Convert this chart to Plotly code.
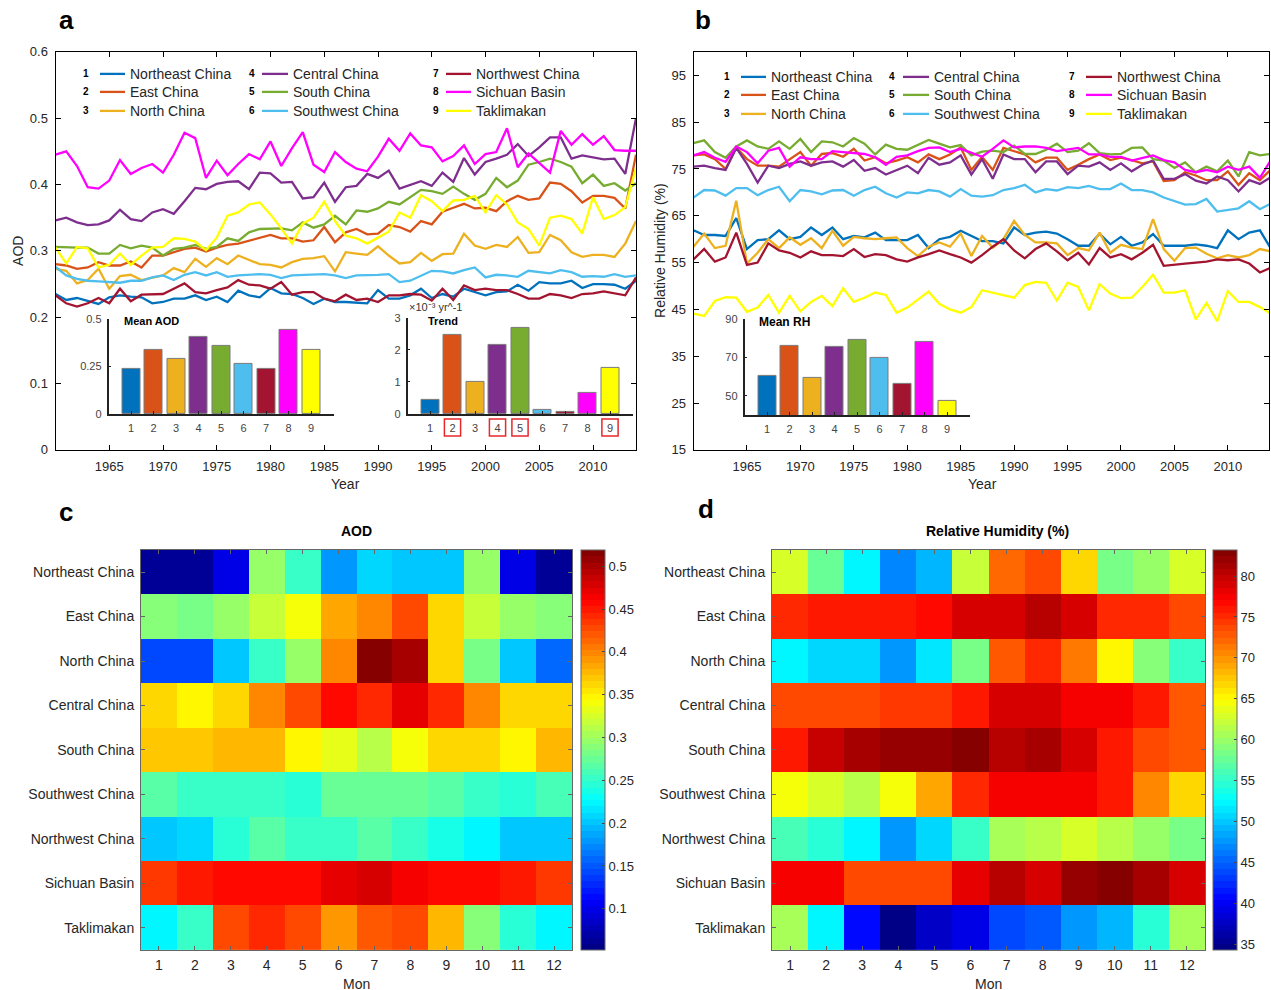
import plotly.graph_objects as go

W, HF = 1271, 1000   # figure size; page rows are mapped so the captured 990-px picture lines up

years = list(range(1960, 2015))
regions = ["Northeast China", "East China", "North China", "Central China", "South China",
           "Southwest China", "Northwest China", "Sichuan Basin", "Taklimakan"]
colors = ["#0072BD", "#D95319", "#EDB120", "#7E2F8E", "#77AC30",
          "#4DBEEE", "#A2142F", "#FF00FF", "#FFFF00"]

# ---------------- AOD annual series (1960-2014) ----------------
aod_northeast = [0.235, 0.226, 0.229, 0.225, 0.22, 0.23, 0.233, 0.231, 0.23, 0.221, 0.223, 0.228, 0.228, 0.233,
                 0.226, 0.231, 0.223, 0.24, 0.233, 0.23, 0.244, 0.236, 0.235, 0.229, 0.22, 0.228, 0.223, 0.223,
                 0.222, 0.221, 0.241, 0.228, 0.228, 0.233, 0.243, 0.229, 0.235, 0.231, 0.243, 0.238, 0.233, 0.238,
                 0.239, 0.249, 0.24, 0.253, 0.251, 0.251, 0.255, 0.244, 0.25, 0.25, 0.249, 0.243, 0.255]
aod_east = [0.28, 0.278, 0.273, 0.275, 0.283, 0.278, 0.278, 0.284, 0.275, 0.293, 0.293, 0.298, 0.303, 0.305,
            0.299, 0.305, 0.309, 0.311, 0.315, 0.319, 0.324, 0.319, 0.319, 0.314, 0.316, 0.336, 0.313, 0.328,
            0.333, 0.325, 0.326, 0.339, 0.336, 0.329, 0.345, 0.34, 0.359, 0.365, 0.371, 0.364, 0.365, 0.36,
            0.375, 0.383, 0.377, 0.379, 0.403, 0.401, 0.39, 0.373, 0.383, 0.383, 0.38, 0.364, 0.445]
aod_north = [0.273, 0.27, 0.251, 0.256, 0.273, 0.243, 0.262, 0.264, 0.256, 0.26, 0.263, 0.274, 0.268, 0.288,
             0.276, 0.289, 0.28, 0.293, 0.286, 0.28, 0.279, 0.275, 0.283, 0.288, 0.289, 0.292, 0.269, 0.298,
             0.296, 0.294, 0.307, 0.293, 0.281, 0.283, 0.297, 0.285, 0.295, 0.296, 0.326, 0.308, 0.303, 0.309,
             0.306, 0.321, 0.297, 0.298, 0.324, 0.316, 0.298, 0.291, 0.294, 0.294, 0.291, 0.311, 0.345]
aod_central = [0.346, 0.35, 0.343, 0.339, 0.34, 0.346, 0.362, 0.348, 0.345, 0.358, 0.363, 0.356, 0.375, 0.395,
               0.393, 0.401, 0.404, 0.405, 0.393, 0.418, 0.417, 0.403, 0.404, 0.379, 0.381, 0.403, 0.374, 0.396,
               0.398, 0.416, 0.41, 0.421, 0.394, 0.399, 0.405, 0.398, 0.418, 0.404, 0.44, 0.415, 0.434, 0.439,
               0.445, 0.461, 0.443, 0.456, 0.471, 0.471, 0.439, 0.444, 0.441, 0.438, 0.439, 0.416, 0.5]
aod_south = [0.306, 0.305, 0.305, 0.305, 0.296, 0.296, 0.309, 0.304, 0.308, 0.305, 0.293, 0.303, 0.305, 0.309,
             0.303, 0.306, 0.319, 0.315, 0.328, 0.333, 0.334, 0.334, 0.331, 0.343, 0.335, 0.34, 0.353, 0.34,
             0.361, 0.359, 0.364, 0.374, 0.37, 0.381, 0.392, 0.39, 0.386, 0.397, 0.386, 0.377, 0.386, 0.41,
             0.396, 0.406, 0.43, 0.434, 0.439, 0.434, 0.427, 0.402, 0.415, 0.398, 0.402, 0.391, 0.402]
aod_southwest = [0.276, 0.263, 0.258, 0.255, 0.254, 0.253, 0.252, 0.255, 0.255, 0.26, 0.263, 0.256, 0.264, 0.268,
                 0.263, 0.268, 0.261, 0.263, 0.264, 0.265, 0.264, 0.259, 0.263, 0.264, 0.265, 0.265, 0.263, 0.259,
                 0.263, 0.263, 0.264, 0.265, 0.253, 0.255, 0.263, 0.27, 0.269, 0.266, 0.271, 0.275, 0.26, 0.264,
                 0.263, 0.261, 0.27, 0.268, 0.266, 0.271, 0.268, 0.261, 0.262, 0.261, 0.265, 0.261, 0.263]
aod_northwest = [0.233, 0.221, 0.216, 0.221, 0.229, 0.221, 0.243, 0.224, 0.234, 0.234, 0.235, 0.243, 0.251, 0.238,
                 0.236, 0.241, 0.245, 0.256, 0.249, 0.248, 0.243, 0.253, 0.234, 0.238, 0.238, 0.228, 0.224, 0.234,
                 0.226, 0.228, 0.223, 0.233, 0.233, 0.235, 0.234, 0.225, 0.243, 0.226, 0.248, 0.241, 0.243, 0.241,
                 0.241, 0.235, 0.228, 0.228, 0.235, 0.233, 0.229, 0.235, 0.236, 0.239, 0.236, 0.233, 0.26]
aod_sichuan = [0.445, 0.45, 0.428, 0.396, 0.394, 0.406, 0.437, 0.416, 0.425, 0.431, 0.418, 0.445, 0.478, 0.47,
               0.41, 0.436, 0.414, 0.431, 0.446, 0.438, 0.465, 0.428, 0.455, 0.479, 0.43, 0.419, 0.449, 0.434,
               0.424, 0.42, 0.442, 0.469, 0.451, 0.477, 0.459, 0.456, 0.435, 0.443, 0.459, 0.431, 0.446, 0.449,
               0.485, 0.426, 0.447, 0.432, 0.418, 0.481, 0.46, 0.476, 0.46, 0.473, 0.452, 0.451, 0.451]
aod_taklimakan = [0.305, 0.281, 0.306, 0.304, 0.275, 0.279, 0.296, 0.279, 0.293, 0.305, 0.306, 0.319, 0.318, 0.314,
                  0.301, 0.32, 0.353, 0.358, 0.37, 0.373, 0.355, 0.334, 0.311, 0.341, 0.35, 0.374, 0.345, 0.323,
                  0.319, 0.311, 0.32, 0.329, 0.358, 0.35, 0.384, 0.375, 0.36, 0.376, 0.377, 0.383, 0.358, 0.384,
                  0.37, 0.343, 0.333, 0.308, 0.35, 0.353, 0.348, 0.326, 0.381, 0.348, 0.354, 0.366, 0.425]

# ---------------- RH annual series (1960-2014) ----------------
rh_northeast = [61.9, 60.9, 60.9, 60.7, 64.5, 57.9, 59.8, 60, 61.9, 60, 60.5, 62.5, 60.9, 62.5, 60, 60.7, 60.4,
                61.4, 59.8, 59.8, 59.8, 60.9, 58.1, 60, 60.5, 61.8, 60.7, 59.6,
                59.6, 59.1, 62.5, 60.9, 61.4, 61.6, 61.2, 60, 58.6, 58.6, 61.2, 58.9, 60.5, 58.6, 59.3, 61.1,
                58.6, 58.6, 58.6, 58.9, 58.6, 58.1, 61.9, 60, 61.4, 61.9, 58.1]
rh_east = [77.9, 78.1, 77.1, 75, 79.6, 77.1, 75.7, 75.7, 75.5, 77.1, 78.6, 75.7, 78.2, 78.4, 77.6, 79.3, 76.8,
           77.5, 76.2, 76.8, 77.5, 76.4, 78.1, 77.1, 78.1, 79.6, 74.8, 77.6,
           74.8, 79.5, 78.8, 78.1, 76.4, 77.4, 77.4, 74.8, 75.9, 77.1, 78.1, 76.9, 77.4, 76.9, 76.2, 76.6,
           72.4, 72.6, 74.3, 73.6, 72.6, 72.6, 74.5, 71.6, 74.1, 72.6, 74.8]
rh_north = [58.4, 61.2, 58.1, 58.6, 68.2, 54.8, 57.1, 60, 58.1, 60.4, 58.8, 60.2, 58.1, 61.8, 58.6, 60.5, 60.2,
            60, 60.2, 60.4, 58.1, 56.4, 58.4, 59.3, 58.4, 61.2, 56.4, 60.7,
            58.2, 60, 63.9, 60.9, 59.3, 59.3, 59.1, 56.6, 58.1, 57.6, 61.4, 57.1, 58.8, 58.2, 57.9, 64.3,
            57.9, 55.4, 58.1, 58.2, 56.9, 55.9, 56.6, 56.1, 56.6, 57.9, 57.4]
rh_central = [75.5, 75.7, 75.2, 74.8, 79.5, 76.1, 72.1, 75.7, 75.2, 76.1, 76.6, 75.7, 76.4, 76.6, 75.5, 76.9,
              74.6, 75.2, 73.8, 74.8, 75.7, 74.1, 77.4, 75.9, 76.4, 77.9, 73.8, 77.1,
              72.9, 78.1, 77.1, 77.1, 74.3, 76.6, 76.6, 73.9, 75.7, 75.5, 76.4, 74.8, 76.2, 74.5, 75.9, 76.8,
              72.9, 72.9, 73.9, 72.5, 71.9, 73.4, 72.6, 70.2, 72.6, 71.8, 73.2]
rh_south = [80.5, 81.1, 78.6, 77.4, 79.8, 81.1, 79.8, 79.3, 80.9, 79.3, 81.4, 78.6, 80.9, 80.7, 79.8, 81.6, 80.4,
            78.1, 80.2, 79.3, 79.1, 80.2, 81.2, 80.4, 79.6, 80.1, 77.9, 78.7,
            78.9, 78.6, 80, 78.2, 78.2, 79.1, 80.4, 78.6, 78.9, 80.5, 78.4, 78.1, 78.2, 79.5, 79.6, 77.1,
            76.8, 75.2, 76.4, 74.3, 75.5, 74.5, 76.8, 73.4, 78.6, 77.9, 78.2]
rh_southwest = [68.9, 70.5, 70.4, 69.3, 70.9, 70.9, 69.4, 70.5, 71.2, 68.1, 70.5, 70.2, 69.6, 70.4, 70.5, 69.3,
                70.5, 71.2, 69.8, 68.9, 70, 69.8, 70.5, 70.2, 69.1, 70.7, 69.3, 69.1,
                69.4, 70.5, 70.9, 71.6, 70, 70.7, 70.4, 71.1, 70.9, 71.4, 70.7, 70.7, 71.9, 70.5, 70.5, 70,
                68.9, 68.1, 67.4, 67.5, 68.6, 65.9, 66.2, 66.6, 68.1, 66.4, 67.6]
rh_northwest = [55.7, 57.9, 55.2, 56.1, 61.4, 54.5, 55, 59.1, 57.6, 57.1, 56.1, 57.4, 56.6, 56.6, 56.4, 57.9,
                56.2, 56.8, 56.6, 55.7, 55.2, 56.1, 56.8, 57.6, 56.8, 56.1, 55, 56.6,
                58.4, 60, 57.6, 55.9, 57.9, 59.1, 57.4, 55.5, 57.1, 54.6, 58.1, 56.1, 56.8, 55.7, 57.1, 58.8,
                54.3, 54.6, 54.8, 55, 55.2, 55.7, 55.5, 55.7, 54.8, 52.9, 53.9]
rh_sichuan = [77.9, 78.6, 77.4, 76.5, 79.8, 78.6, 76.2, 78.9, 79.5, 75.5, 77.5, 77.1, 77.1, 78.8, 78.6, 78.4,
              78.2, 77.5, 75.9, 77.6, 77.9, 78.8, 79.5, 79.6, 78.6, 79.3, 78.4, 77.6,
              79.3, 81.1, 79.6, 79.8, 79.8, 79.5, 78.8, 79.1, 79.5, 78.1, 78.1, 77.6, 77.6, 76.8, 77.4, 77.9,
              76.9, 76.4, 74.8, 74.3, 74.8, 74.3, 75.5, 74.8, 75.5, 73.1, 76.8]
rh_taklimakan = [44.1, 43.6, 46.8, 47.6, 47.5, 44.5, 45.4, 48.1, 44.3, 47.9, 44.6, 46.6, 47.9, 45.7, 49.5, 46.6,
                 47.5, 48.6, 48.1, 44.3, 45.4, 47.1, 48.8, 46.2, 45, 44.3, 45.5, 49.1,
                 48.6, 48.1, 47.5, 50.2, 50.9, 50.7, 46.9, 50.7, 49.8, 44.8, 50.4, 48.4, 47.4, 47.5, 49.8, 52.4,
                 48.6, 48.6, 49.1, 42.9, 46.4, 42.5, 48.9, 46.6, 46.6, 45.5, 44.1]

# ---------------- Inset bar values ----------------
bar_ids = [1, 2, 3, 4, 5, 6, 7, 8, 9]
mean_aod = [0.235, 0.336, 0.287, 0.404, 0.357, 0.263, 0.235, 0.444, 0.336]
trend_aod = [0.44, 2.46, 1.0, 2.15, 2.68, 0.13, 0.07, 0.65, 1.45]
mean_rh = [60.4, 76.2, 59.2, 75.2, 78.9, 69.8, 56.4, 77.9, 47.2]
significant = [2, 4, 5, 9]

# ---------------- Monthly climatology (heatmaps) ----------------
months = list(range(1, 13))
aod_monthly = [
    [0.06, 0.06, 0.10, 0.30, 0.25, 0.18, 0.21, 0.20, 0.20, 0.30, 0.10, 0.06],
    [0.29, 0.285, 0.30, 0.32, 0.34, 0.385, 0.40, 0.425, 0.365, 0.32, 0.30, 0.29],
    [0.14, 0.145, 0.20, 0.25, 0.30, 0.40, 0.52, 0.50, 0.365, 0.28, 0.20, 0.16],
    [0.365, 0.35, 0.365, 0.40, 0.43, 0.455, 0.445, 0.47, 0.44, 0.40, 0.36, 0.36],
    [0.37, 0.37, 0.38, 0.38, 0.35, 0.33, 0.31, 0.34, 0.365, 0.365, 0.35, 0.375],
    [0.27, 0.25, 0.25, 0.25, 0.245, 0.275, 0.275, 0.275, 0.265, 0.25, 0.245, 0.26],
    [0.20, 0.21, 0.245, 0.27, 0.255, 0.25, 0.265, 0.255, 0.24, 0.225, 0.205, 0.20],
    [0.435, 0.45, 0.46, 0.46, 0.455, 0.47, 0.48, 0.465, 0.455, 0.455, 0.45, 0.435],
    [0.22, 0.25, 0.425, 0.44, 0.425, 0.39, 0.42, 0.43, 0.38, 0.29, 0.245, 0.22],
]
rh_monthly = [
    [62.7, 57.8, 51.9, 47, 49.5, 62, 72.4, 74, 67, 58.3, 60.2, 62.7],
    [75, 75.8, 75.8, 75.8, 77, 79.3, 79.3, 80.8, 79.3, 75.5, 75, 74],
    [52.6, 50.9, 50.7, 47.5, 51.5, 58.3, 73, 75.4, 71.5, 65.6, 59.2, 55.3],
    [73.4, 73.4, 74, 74.7, 74.7, 75.7, 79.3, 79.3, 77.8, 77.3, 75.7, 73],
    [76, 79.8, 81.5, 82.2, 81.8, 83.2, 80.8, 81.3, 79.3, 75.7, 74, 73],
    [64.6, 62.7, 61.8, 64.6, 69, 75.4, 77.8, 77.8, 77.8, 75.7, 70.5, 67],
    [56.3, 54.3, 52, 48, 51, 55, 61, 61.8, 63, 61.3, 59.6, 58.5],
    [77.1, 77.7, 74, 74, 74, 78.5, 80.8, 78.8, 82.4, 83, 81.3, 78.8],
    [61, 52, 40.7, 34.8, 37.7, 39.2, 43.6, 44.6, 48, 49.5, 54.8, 61],
]

aod_series = [aod_northeast, aod_east, aod_north, aod_central, aod_south,
              aod_southwest, aod_northwest, aod_sichuan, aod_taklimakan]
rh_series = [rh_northeast, rh_east, rh_north, rh_central, rh_south,
             rh_southwest, rh_northwest, rh_sichuan, rh_taklimakan]

FONT = "Liberation Sans, Arial, sans-serif"
TXT = "#262626"


def Y(y):
    # picture row -> page row (compensates the capture's vertical mapping)
    return (y - 7.1) / 0.985


def dx(a, b):
    return [a / W, b / W]


def dy(top, bottom):
    return [1 - Y(bottom) / HF, 1 - Y(top) / HF]


def px(x):
    return x / W


def py(y):
    return 1 - Y(y) / HF


# MATLAB-like jet(64), stepped
def jet(t):
    def cl(v):
        return max(0.0, min(1.0, v))
    r = cl(1.5 - abs(4 * t - 3))
    g = cl(1.5 - abs(4 * t - 2))
    b = cl(1.5 - abs(4 * t - 1))
    return "rgb(%d,%d,%d)" % (round(r * 255), round(g * 255), round(b * 255))


N = 64
jet_scale = []
for i in range(N):
    c = jet((i + 0.5) / N)
    jet_scale.append([i / N, c])
    jet_scale.append([(i + 1) / N, c])

fig = go.Figure()

for name, vals, c in zip(regions, aod_series, colors):
    fig.add_trace(go.Scatter(x=years, y=vals, mode="lines", name=name,
                             line=dict(color=c, width=2.3), xaxis="x", yaxis="y", showlegend=False))
for name, vals, c in zip(regions, rh_series, colors):
    fig.add_trace(go.Scatter(x=years, y=vals, mode="lines", name=name,
                             line=dict(color=c, width=2.3), xaxis="x2", yaxis="y2", showlegend=False))

bar_line = dict(color="#7a7a7a", width=1)
fig.add_trace(go.Bar(x=bar_ids, y=mean_aod, marker=dict(color=colors, line=bar_line), width=0.8,
                     xaxis="x3", yaxis="y3", showlegend=False))
fig.add_trace(go.Bar(x=bar_ids, y=trend_aod, marker=dict(color=colors, line=bar_line), width=0.8,
                     xaxis="x4", yaxis="y4", showlegend=False))
fig.add_trace(go.Bar(x=bar_ids, y=mean_rh, marker=dict(color=colors, line=bar_line), width=0.8,
                     xaxis="x5", yaxis="y5", showlegend=False, cliponaxis=True))

cb_len = (Y(950) - Y(550)) / HF
fig.add_trace(go.Heatmap(z=aod_monthly, x=months, y=regions, colorscale=jet_scale, zmin=0.052, zmax=0.519,
                         xaxis="x6", yaxis="y6",
                         colorbar=dict(x=px(581), xanchor="left", xpad=0, y=py(750), yanchor="middle",
                                       len=cb_len, ypad=0, thickness=24, outlinecolor="#666", outlinewidth=1,
                                       tickvals=[0.1, 0.15, 0.2, 0.25, 0.3, 0.35, 0.4, 0.45, 0.5],
                                       ticktext=["0.1", "0.15", "0.2", "0.25", "0.3", "0.35", "0.4", "0.45", "0.5"],
                                       ticks="inside", ticklen=3, tickcolor="#444",
                                       tickfont=dict(size=13, color=TXT, family=FONT))))
fig.add_trace(go.Heatmap(z=rh_monthly, x=months, y=regions, colorscale=jet_scale, zmin=34.3, zmax=83.2,
                         xaxis="x7", yaxis="y7",
                         colorbar=dict(x=px(1213), xanchor="left", xpad=0, y=py(750), yanchor="middle",
                                       len=cb_len, ypad=0, thickness=24, outlinecolor="#666", outlinewidth=1,
                                       tickvals=[35, 40, 45, 50, 55, 60, 65, 70, 75, 80],
                                       ticks="inside", ticklen=3, tickcolor="#444",
                                       tickfont=dict(size=13, color=TXT, family=FONT))))

main_ax = dict(showline=True, linecolor="black", linewidth=1, mirror="ticks", ticks="inside", ticklen=5,
               tickcolor="black", showgrid=False, zeroline=False,
               tickfont=dict(size=13, color=TXT, family=FONT), ticklabelstandoff=4)
inset_ax = dict(showline=True, linecolor="#222", linewidth=1.5, mirror=False, ticks="inside", ticklen=3,
                tickcolor="#222", showgrid=False, zeroline=False,
                tickfont=dict(size=11, color="#444", family=FONT), ticklabelstandoff=3)
heat_ax = dict(showline=True, linecolor="#666", linewidth=1, mirror="ticks", ticks="inside", ticklen=4,
               tickcolor="#666", showgrid=False, zeroline=False,
               tickfont=dict(size=14, color=TXT, family=FONT))

year_ticks = list(range(1965, 2015, 5))
fig.update_layout(
    width=W, height=HF, margin=dict(l=0, r=0, t=0, b=0), autosize=False,
    paper_bgcolor="white", plot_bgcolor="rgba(0,0,0,0)",
    font=dict(family=FONT, color=TXT),
    xaxis=dict(domain=dx(55.5, 636), range=[1960, 2014], tickvals=year_ticks, anchor="y", **main_ax),
    yaxis=dict(domain=dy(52, 450), range=[0, 0.6], tickvals=[0, 0.1, 0.2, 0.3, 0.4, 0.5, 0.6],
               anchor="x", **main_ax),
    xaxis2=dict(domain=dx(693.5, 1269), range=[1960, 2013.85], tickvals=year_ticks, anchor="y2", **main_ax),
    yaxis2=dict(domain=dy(52, 450), range=[15, 100], tickvals=list(range(15, 100, 10)), anchor="x2", **main_ax),
    xaxis3=dict(domain=dx(108.5, 333.5), range=[0, 10], tickvals=bar_ids, anchor="y3", **inset_ax),
    yaxis3=dict(domain=dy(319, 414), range=[0, 0.5], tickvals=[0, 0.25, 0.5], ticktext=["0", "0.25", "0.5"],
                anchor="x3", **inset_ax),
    xaxis4=dict(domain=dx(407.5, 632.5), range=[0, 10], tickvals=bar_ids, anchor="y4", **inset_ax),
    yaxis4=dict(domain=dy(318, 414), range=[0, 3], tickvals=[0, 1, 2, 3], anchor="x4", **inset_ax),
    xaxis5=dict(domain=dx(744.5, 969.5), range=[0, 10], tickvals=bar_ids, anchor="y5", **inset_ax),
    yaxis5=dict(domain=dy(319, 415), range=[40, 90], tickvals=[50, 70, 90], anchor="x5", **inset_ax),
    xaxis6=dict(domain=dx(141, 572), range=[0.5, 12.5], tickvals=months, anchor="y6", ticklabelstandoff=2,
                **heat_ax),
    yaxis6=dict(domain=dy(550, 950), autorange="reversed", anchor="x6", ticklabelstandoff=3, **heat_ax),
    xaxis7=dict(domain=dx(772, 1205), range=[0.5, 12.5], tickvals=months, anchor="y7", ticklabelstandoff=2,
                **heat_ax),
    yaxis7=dict(domain=dy(550, 950), autorange="reversed", anchor="x7", ticklabelstandoff=3, **heat_ax),
    bargap=0,
)

ann = []
shapes = []


def text(x, y, s, size=14, bold=False, xanchor="center", color=TXT, angle=0, yanchor="middle"):
    ann.append(dict(x=px(x), y=py(y), xref="paper", yref="paper", text=("<b>%s</b>" % s) if bold else s,
                    showarrow=False, xanchor=xanchor, yanchor=yanchor, textangle=angle,
                    font=dict(size=size, color=color, family=FONT)))


# panel letters
text(66, 20, "a", size=26, bold=True, color="black")
text(703, 20, "b", size=26, bold=True, color="black")
text(66, 512, "c", size=26, bold=True, color="black")
text(706, 509, "d", size=26, bold=True, color="black")

# axis titles
text(345, 484, "Year", size=14)
text(982, 484, "Year", size=14)
text(18, 251, "AOD", size=14, angle=-90)
text(660, 251, "Relative Humidity (%)", size=14, angle=-90)
text(356, 984, "Mon", size=14)
text(988, 984, "Mon", size=14)
text(356, 531, "AOD", size=14, bold=True, color="black")
text(998, 531, "Relative Humidity (%)", size=14, bold=True, color="black")

# inset titles
text(122, 321, "Mean AOD", size=11, bold=True, xanchor="left", color="black")
text(426, 321, "Trend", size=11, bold=True, xanchor="left", color="black")
text(757, 322, "Mean RH", size=12, bold=True, xanchor="left", color="black")
text(407, 307, "×10⁻³ yr^-1", size=11, xanchor="left", color="#333")

# red boxes around significant trend labels
for k in significant:
    shapes.append(dict(type="rect", xref="x4", yref="paper", x0=k - 0.36, x1=k + 0.36,
                       y0=py(436), y1=py(419), line=dict(color="#e8282b", width=1.5)))

# custom legends
leg_a = dict(num_x=[86, 252, 436], line_x=[(100, 125), (262, 288), (446, 471)], txt_x=[128, 291, 474],
             rows=[74, 92, 111])
leg_b = dict(num_x=[727, 892, 1072], line_x=[(741, 766), (903, 929), (1086, 1112)], txt_x=[769, 932, 1115],
             rows=[77, 95, 114])
for leg in (leg_a, leg_b):
    for k, (name, c) in enumerate(zip(regions, colors)):
        col, row = k // 3, k % 3
        y = leg["rows"][row]
        text(leg["num_x"][col], y, str(k + 1), size=10, bold=True, color="black")
        x0, x1 = leg["line_x"][col]
        shapes.append(dict(type="line", xref="paper", yref="paper", x0=px(x0), x1=px(x1), y0=py(y), y1=py(y),
                           line=dict(color=c, width=2.3)))
        text(leg["txt_x"][col], y, name, size=14, xanchor="left")

fig.update_layout(annotations=ann, shapes=shapes)

post = ("document.documentElement.style.margin='0';document.documentElement.style.overflow='hidden';"
        "document.body.style.margin='0';document.body.style.overflow='hidden';"
        "var d=document.getElementById('{plot_id}');d.style.position='fixed';d.style.top='0px';"
        "d.style.left='0px';")
fig.write_html("out.html", config={"displayModeBar": False}, post_script=post)
